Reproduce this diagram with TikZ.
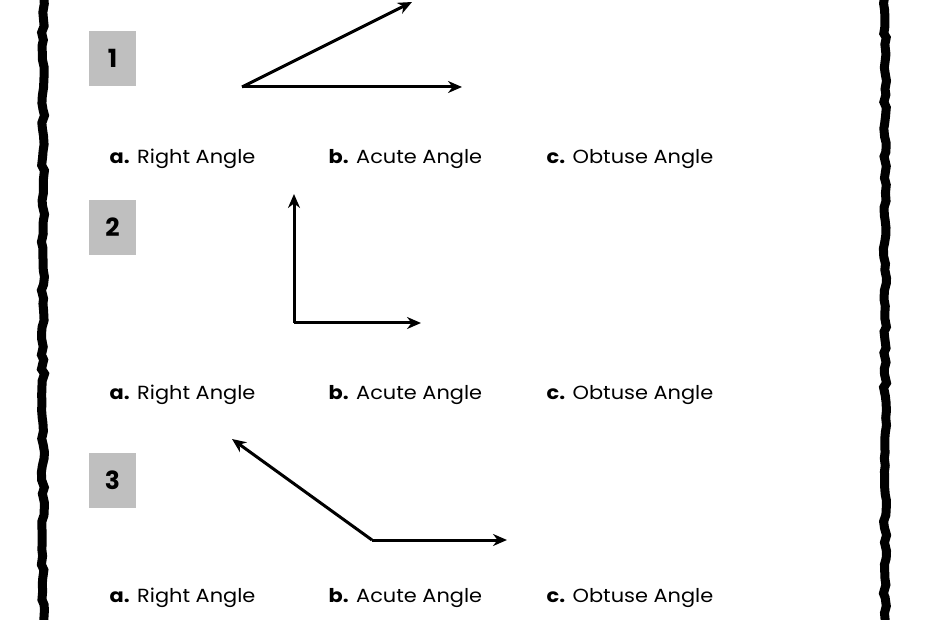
\documentclass[tikz,border=0pt]{standalone}
\usepackage{fontspec}
\setmainfont{Poppins}
\usetikzlibrary{arrows.meta,decorations.pathmorphing,positioning}
\begin{document}
\begin{tikzpicture}
  [
  x=1pt, y=-1pt, line width=3pt, >={Stealth[length=14pt,width=12pt]},
  numbox/.style={rectangle, fill=black!25, minimum width=47pt, minimum height=55pt,
    inner sep=0pt, font=\fontsize{25}{28}\selectfont\bfseries},
  choice/.style={anchor=west, inner sep=0pt, xscale=1.1, font=\fontsize{19}{21}\selectfont},
  wavy/.style={line width=9pt, decorate, decoration={random steps, segment length=7pt, amplitude=1.6pt}},
  ]
  \useasboundingbox (0,0) rectangle (930,620);
  \fill[white] (0,0) rectangle (930,620);

  % frame
  \draw[wavy] (43,-10) -- (43,630);
  \draw[wavy] (885,-10) -- (885,630);

  % question numbers
  \node[numbox] (q1) at (112.5,58.5) {1};
  \node[numbox] (q2) at (112.5,227.5) {2};
  \node[numbox] (q3) at (112.5,480.5) {3};

  % angle 1
  \coordinate (v1) at (242,87);
  \coordinate (v1a) at (412,2);
  \coordinate (v1b) at (462,87);
  \draw[->] (v1) -- (v1a);
  \draw[->] (v1) -- (v1b);

  % angle 2
  \coordinate (v2) at (294,323);
  \coordinate (v2a) at (294,194);
  \coordinate (v2b) at (421,323);
  \draw[->] (v2) -- (v2a);
  \draw[->] (v2) -- (v2b);

  % angle 3
  \coordinate (v3) at (372,540);
  \coordinate (v3a) at (232,439);
  \coordinate (v3b) at (507,540);
  \draw[->] (v3) -- (v3a);
  \draw[->] (v3) -- (v3b);

  % answer choices
  \foreach \row/\y in {1/159, 2/395, 3/598} {
    \node[choice] (a\row) at (108,\y) {\textbf{a.} Right Angle};
    \node[choice] (b\row) at (327,\y) {\textbf{b.} Acute Angle};
    \node[choice] (c\row) at (545,\y) {\textbf{c.} Obtuse Angle};
  }
\end{tikzpicture}
\end{document}
